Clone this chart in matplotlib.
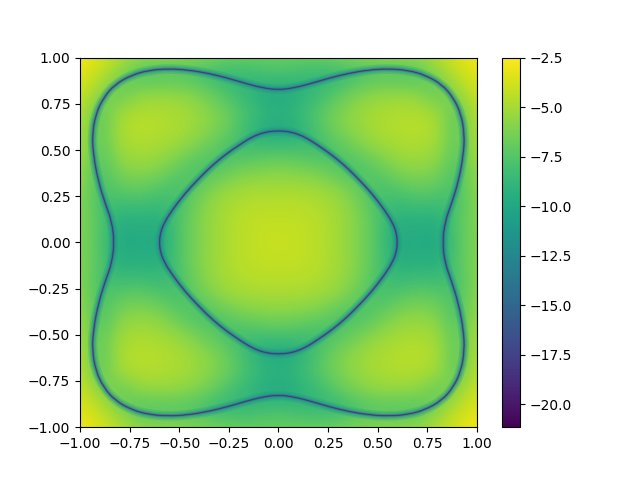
import numpy as np
import matplotlib
matplotlib.use("Agg")
import matplotlib.pyplot as plt
from matplotlib.path import Path
from matplotlib.patches import PathPatch

# values, upper right quarter (the picture is symmetric)
# rows y = 0.0 .. 1.0, columns x = 0.0 .. 1.0
quarter = [
    [-4.1, -4.2, -4.5, -5.1, -6.1, -7.6, -10.0, -9.6, -10.0, -7.6, -6.0],
    [-4.2, -4.2, -4.5, -5.1, -6.0, -7.6, -9.6, -9.3, -9.7, -7.4, -5.9],
    [-4.5, -4.5, -4.7, -5.2, -6.2, -8.0, -8.6, -8.2, -8.4, -8.0, -5.8],
    [-5.1, -5.1, -5.3, -5.8, -7.0, -8.0, -7.3, -6.8, -7.0, -8.0, -5.5],
    [-6.1, -6.3, -6.6, -7.6, -8.0, -7.0, -5.9, -5.6, -6.0, -8.0, -5.2],
    [-7.8, -8.0, -8.3, -7.6, -6.5, -5.6, -5.1, -4.9, -5.2, -7.5, -4.8],
    [-10.0, -9.4, -7.7, -6.3, -5.5, -4.9, -4.6, -4.5, -4.8, -7.5, -4.6],
    [-9.2, -8.6, -7.4, -6.2, -5.4, -4.9, -4.7, -4.7, -5.0, -7.5, -4.2],
    [-10.0, -9.4, -8.4, -7.2, -6.1, -5.6, -5.5, -5.6, -7.2, -5.6, -3.9],
    [-8.0, -8.4, -8.8, -8.8, -8.0, -7.6, -7.6, -7.8, -6.0, -4.4, -3.4],
    [-6.8, -6.8, -6.7, -6.4, -6.0, -5.8, -5.7, -5.5, -4.6, -3.6, -2.7],
]

inner_x = [0.0, 0.05, 0.1, 0.15, 0.2, 0.25, 0.3, 0.357, 0.41, 0.467, 0.535, 0.577, 0.595, 0.6]
inner_y = [0.604, 0.6, 0.586, 0.56, 0.525, 0.488, 0.447, 0.393, 0.335, 0.27, 0.176, 0.104, 0.05, 0.0]

outer_x = [0.0, 0.084, 0.168, 0.252, 0.353, 0.454, 0.555, 0.655, 0.739, 0.824,
           0.882, 0.921, 0.938, 0.933, 0.908, 0.871, 0.84, 0.827]
outer_y = [0.825, 0.837, 0.861, 0.888, 0.915, 0.933, 0.94, 0.931, 0.906, 0.855,
           0.783, 0.693, 0.584, 0.476, 0.331, 0.204, 0.114, 0.0]

ticks = [-1.0, -0.75, -0.5, -0.25, 0.0, 0.25, 0.5, 0.75, 1.0]
cbar_ticks = [-2.5, -5.0, -7.5, -10.0, -12.5, -15.0, -17.5, -20.0]
vmin, vmax = -21.15, -2.5


def mirror_grid(q):
    q = np.array(q)
    top = np.hstack([q[:, :0:-1], q])
    return np.vstack([top[:0:-1], top])


def closed_path(xs, ys):
    # all four quarters, read points used as control points of a smooth path
    xs, ys = np.array(xs), np.array(ys)
    x = np.concatenate([xs, xs[-2::-1], -xs[1:], -xs[-2:0:-1]])
    y = np.concatenate([ys, -ys[-2::-1], -ys[1:], ys[-2:0:-1]])
    pts = np.column_stack([x, y])
    mids = (pts + np.roll(pts, -1, axis=0)) / 2
    verts = [mids[-1]]
    codes = [Path.MOVETO]
    for p, m in zip(pts, mids):
        verts += [p, m]
        codes += [Path.CURVE3, Path.CURVE3]
    return Path(verts, codes)


fig, ax = plt.subplots()
im = ax.imshow(mirror_grid(quarter), origin="lower", extent=(-1.05, 1.05, -1.05, 1.05),
               cmap="viridis", vmin=vmin, vmax=vmax, interpolation="bicubic", aspect="auto")

for xs, ys in [(inner_x, inner_y), (outer_x, outer_y)]:
    path = closed_path(xs, ys)
    # dark valley along the curves, wide and pale to thin and dark
    for color, lw, alpha in [("#21918c", 7, 0.25), ("#21908d", 4.5, 0.35),
                             ("#2c728e", 2.4, 0.4), ("#3b528b", 1.3, 0.6),
                             ("#482878", 0.5, 0.9)]:
        ax.add_patch(PathPatch(path, fill=False, edgecolor=color, lw=lw, alpha=alpha))

ax.set_xlim(-1, 1)
ax.set_ylim(-1, 1)
ax.set_xticks(ticks)
ax.set_yticks(ticks)
fig.colorbar(im, ax=ax, ticks=cbar_ticks)
fig.savefig("out.png", dpi=100)
